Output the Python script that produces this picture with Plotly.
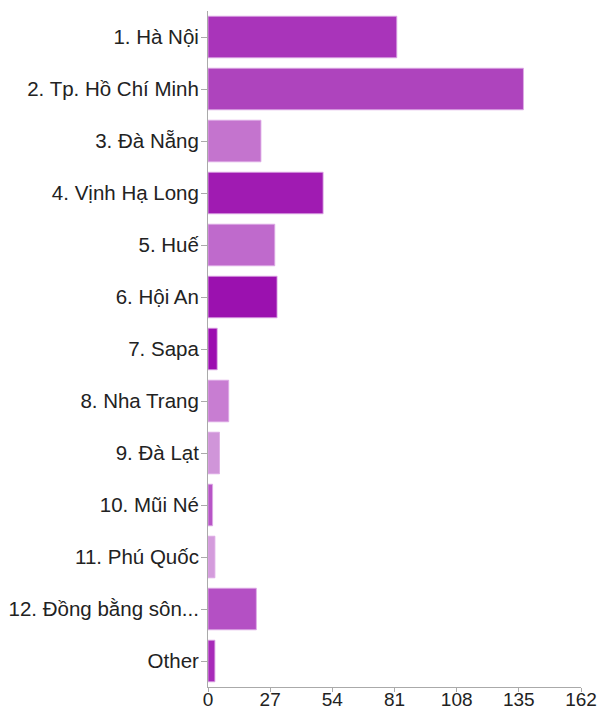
import plotly.graph_objects as go

# Destinations (top to bottom) and number of responses
destinations = [
    "1. Hà Nội",
    "2. Tp. Hồ Chí Minh",
    "3. Đà Nẵng",
    "4. Vịnh Hạ Long",
    "5. Huế",
    "6. Hội An",
    "7. Sapa",
    "8. Nha Trang",
    "9. Đà Lạt",
    "10. Mũi Né",
    "11. Phú Quốc",
    "12. Đồng bằng sôn...",
    "Other",
]
counts = [82, 137, 23, 50, 29, 30, 4, 9, 5, 2, 3, 21, 3]

bar_colors = [
    "#A934BA", "#AE44BD", "#C474CE", "#A01BB2", "#BF6ACC", "#9B11AF",
    "#9C0DB0", "#C87DD2", "#D095D9", "#B755C6", "#D49CDC", "#B450C4",
    "#A82BB9",
]

x_ticks = [0, 27, 54, 81, 108, 135, 162]

fig = go.Figure(
    go.Bar(
        x=counts,
        y=destinations,
        orientation="h",
        marker=dict(
            color=bar_colors,
            line=dict(color="rgba(222,170,230,0.85)", width=1),
        ),
    )
)

fig.update_layout(
    width=600,
    height=711,
    margin=dict(l=208, r=19, t=11, b=24),
    paper_bgcolor="white",
    plot_bgcolor="white",
    bargap=0.2,
    showlegend=False,
    font=dict(family="Arial, 'Liberation Sans', sans-serif", size=19, color="#222222"),
)

fig.update_xaxes(
    range=[0, 162],
    tickvals=x_ticks,
    ticktext=[str(v) for v in x_ticks],
    showgrid=False,
    zeroline=False,
    showline=True,
    linecolor="#AAAAAA",
    linewidth=1,
    ticks="outside",
    ticklen=4,
    tickcolor="#AAAAAA",
    tickfont=dict(size=19, color="#222222"),
    ticklabelstandoff=-9,
    automargin=False,
    fixedrange=True,
)

fig.update_yaxes(
    categoryorder="array",
    categoryarray=destinations[::-1],
    showgrid=False,
    zeroline=False,
    showline=True,
    linecolor="#AAAAAA",
    linewidth=1,
    ticks="outside",
    ticklen=6,
    tickcolor="#AAAAAA",
    tickfont=dict(size=20.5, color="#222222"),
    ticklabelstandoff=-2,
    automargin=False,
    fixedrange=True,
)

fig.write_html("out.html")
